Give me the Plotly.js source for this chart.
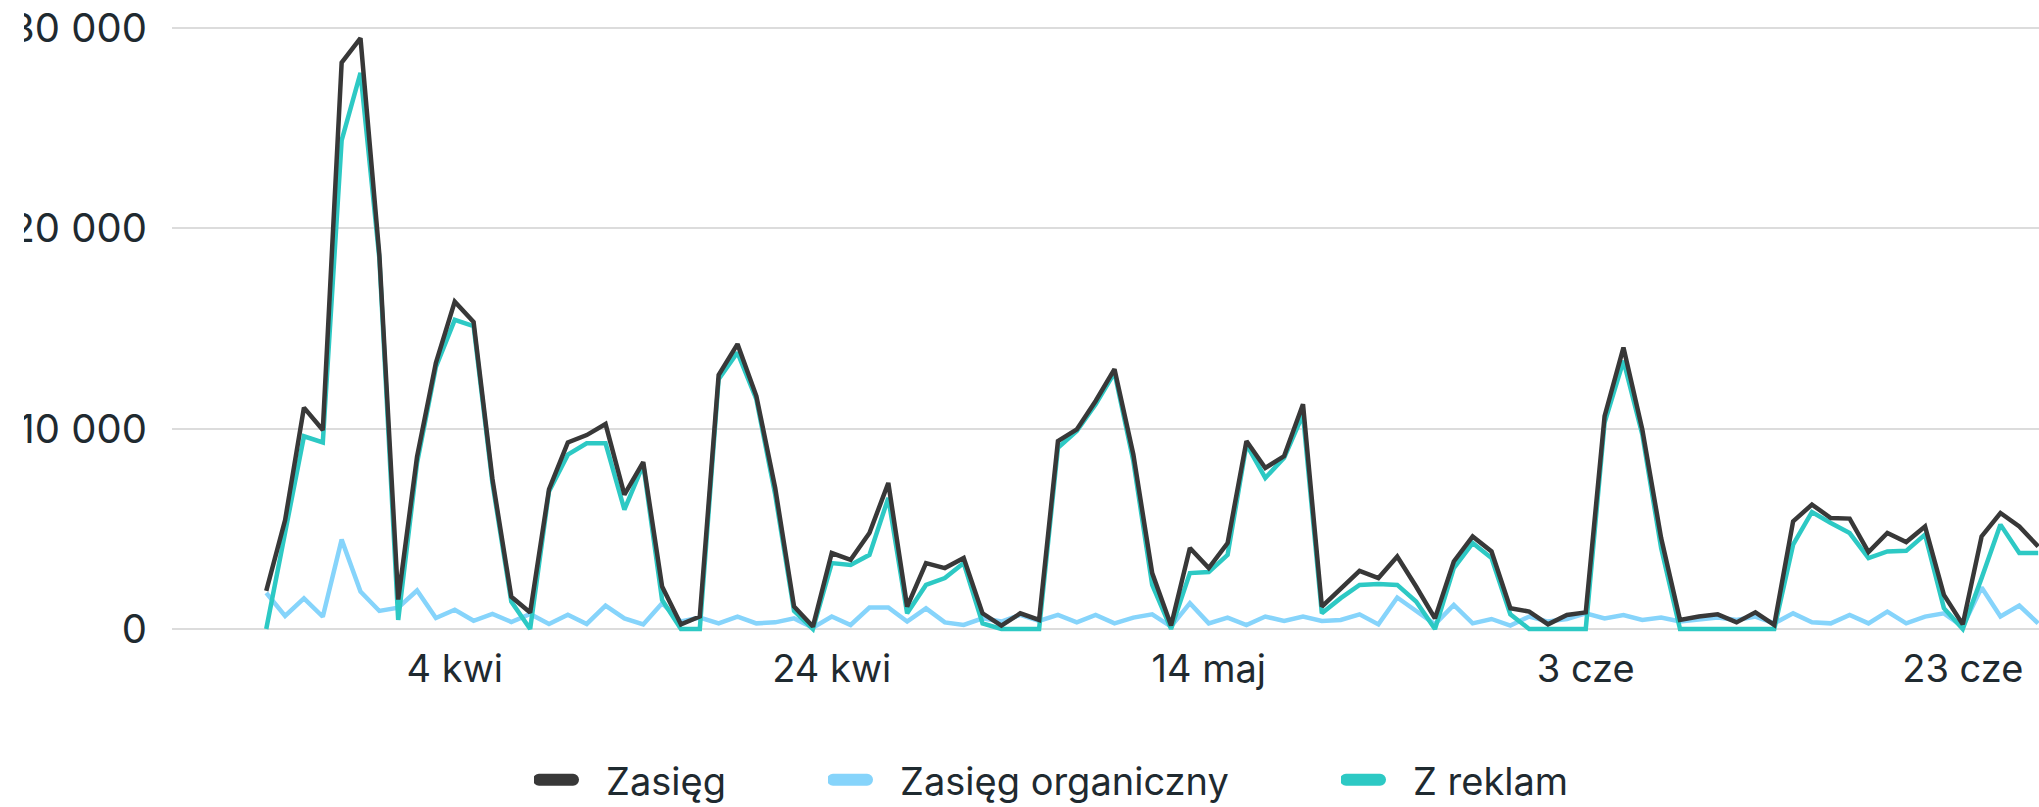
<!DOCTYPE html>
<html>
<head>
<meta charset="utf-8">
<script src="https://cdn.plot.ly/plotly-3.0.1.min.js"></script>
<style>
  html, body { margin: 0; padding: 0; background: #ffffff; overflow: hidden; width: 2039px; height: 807px; }
  #clip { position: absolute; left: 24px; top: 0; width: 2015px; height: 807px; overflow: hidden; background: #fff; }
  #chart { position: absolute; left: -24px; top: 0; width: 2300px; height: 807px; }
  g[class^="legend"] path.js-line { stroke-linecap: round; stroke-width: 12px !important; d: path("M5,0h34"); }
</style>
</head>
<body>
<div id="clip"><div id="chart"></div></div>
<script>
// ---- data ----
const startDate = '2024-03-25';
const dayCount = 95;

const zasieg = [1900, 5440, 11050, 9930, 28270, 29490, 18690, 1470, 8600, 13290,
  16340, 15330, 7480, 1610, 820, 6970, 9310, 9680, 10230, 6710,
  8330, 2120, 230, 620, 12680, 14220, 11630, 7040, 1120, 120,
  3790, 3450, 4790, 7290, 1120, 3290, 3040, 3540, 780, 170,
  780, 450, 9380, 9960, 11380, 12970, 8710, 2790, 170, 4040,
  3040, 4290, 9380, 8040, 8630, 11220, 1120, 2040, 2900, 2540,
  3620, 2120, 530, 3370, 4620, 3870, 1040, 870, 230, 700,
  830, 10630, 14050, 9960, 4540, 450, 620, 730, 330, 830,
  200, 5370, 6210, 5540, 5510, 3840, 4790, 4340, 5120, 1700,
  230, 4620, 5790, 5120, 4120];

const organiczny = [1800, 650, 1530, 610, 4460, 1870, 900, 1060, 1920, 550,
  960, 410, 750, 350, 750, 250, 710, 250, 1160, 530,
  230, 1290, 370, 570, 280, 620, 280, 330, 530, 70,
  620, 200, 1070, 1070, 370, 1030, 330, 200, 530, 370,
  700, 400, 700, 330, 700, 280, 570, 730, 120, 1290,
  280, 570, 200, 620, 400, 620, 400, 450, 730, 230,
  1570, 870, 230, 1200, 280, 500, 170, 620, 370, 500,
  780, 530, 700, 450, 570, 370, 450, 570, 450, 620,
  280, 780, 330, 280, 700, 280, 870, 280, 620, 780,
  120, 2070, 620, 1170, 280];

const zReklam = [0, 4830, 9620, 9310, 24390, 27760, 18500, 450, 8300, 13080,
  15430, 15120, 7280, 1370, 0, 6870, 8700, 9270, 9270, 5960,
  8210, 1450, 0, 0, 12470, 13800, 11470, 6710, 900, 0,
  3290, 3200, 3700, 6540, 780, 2200, 2540, 3290, 280, 0,
  0, 0, 9050, 9880, 11220, 12800, 8380, 2200, 0, 2790,
  2840, 3700, 9210, 7540, 8550, 10710, 780, 1540, 2200, 2240,
  2200, 1370, 0, 3040, 4290, 3540, 730, 0, 0, 0,
  0, 10300, 13390, 9710, 4040, 0, 0, 0, 0, 0,
  0, 4210, 5840, 5290, 4790, 3540, 3870, 3900, 4710, 1040,
  0, 2540, 5210, 3790, 3790];

const tickDates = ['2024-04-04', '2024-04-24', '2024-05-14', '2024-06-03', '2024-06-23'];
const tickLabels = ['4 kwi', '24 kwi', '14 maj', '3 cze', '23 cze'];
const seriesNames = ['Zasięg', 'Zasięg organiczny', 'Z reklam'];
const seriesColors = ['#383838', '#86d4fb', '#2dc9c4'];

// ---- build dates ----
const DAY = 86400000;
const t0 = Date.parse(startDate + 'T00:00:00Z');
function iso(ms) { return new Date(ms).toISOString().slice(0, 10); }
const dates = [];
for (let i = 0; i < dayCount; i++) dates.push(iso(t0 + i * DAY));

// ---- layout geometry ----
const W = 2300, H = 807;
const mL = 172, mR = 50, mT = 17.5, mB = 168;
const pxPerDay = 18.85;
const padDays = 5;
const plotW = W - mL - mR;
const xStart = t0 - padDays * DAY;
const xEnd = xStart + (plotW / pxPerDay) * DAY;

const lineW = 4.5;
const traces = [
  { x: dates, y: organiczny, name: seriesNames[1], legend: 'legend2',
    type: 'scatter', mode: 'lines', line: { color: seriesColors[1], width: lineW } },
  { x: dates, y: zReklam, name: seriesNames[2], legend: 'legend3',
    type: 'scatter', mode: 'lines', line: { color: seriesColors[2], width: lineW } },
  { x: dates, y: zasieg, name: seriesNames[0], legend: 'legend',
    type: 'scatter', mode: 'lines', line: { color: seriesColors[0], width: lineW } }
];

const fontColor = '#1f2a30';
const legendY = (H - 780) / H;
function legendAt(px) {
  return {
    orientation: 'h',
    xref: 'container', yref: 'container',
    x: px / W, xanchor: 'left',
    y: legendY, yanchor: 'middle',
    font: { size: 38, color: fontColor },
    itemwidth: 62,
    borderwidth: 0,
    bgcolor: 'rgba(0,0,0,0)'
  };
}

const layout = {
  width: W, height: H,
  margin: { l: mL, r: mR, t: mT, b: mB, pad: 0 },
  paper_bgcolor: '#ffffff', plot_bgcolor: '#ffffff',
  font: { family: 'Inter, "Noto Sans", sans-serif', size: 38, color: fontColor },
  separators: ', ',
  showlegend: true,
  hovermode: false,
  xaxis: {
    type: 'date',
    range: [iso(xStart), new Date(xEnd).toISOString()],
    tickmode: 'array', tickvals: tickDates, ticktext: tickLabels,
    showgrid: false, zeroline: false, showline: false, ticks: '',
    ticklabelstandoff: 4,
    tickfont: { size: 38, color: fontColor }
  },
  yaxis: {
    range: [-500, 30500],
    tick0: 0, dtick: 10000, tickformat: ',d',
    showgrid: true, gridcolor: '#dcdcdc', gridwidth: 2,
    zeroline: false, showline: false, ticks: '',
    ticklabelstandoff: 24,
    tickfont: { size: 40, color: fontColor }
  },
  legend: legendAt(534),
  legend2: legendAt(828),
  legend3: legendAt(1341)
};

Plotly.newPlot('chart', traces, layout, { displayModeBar: false, staticPlot: true });
</script>
</body>
</html>
